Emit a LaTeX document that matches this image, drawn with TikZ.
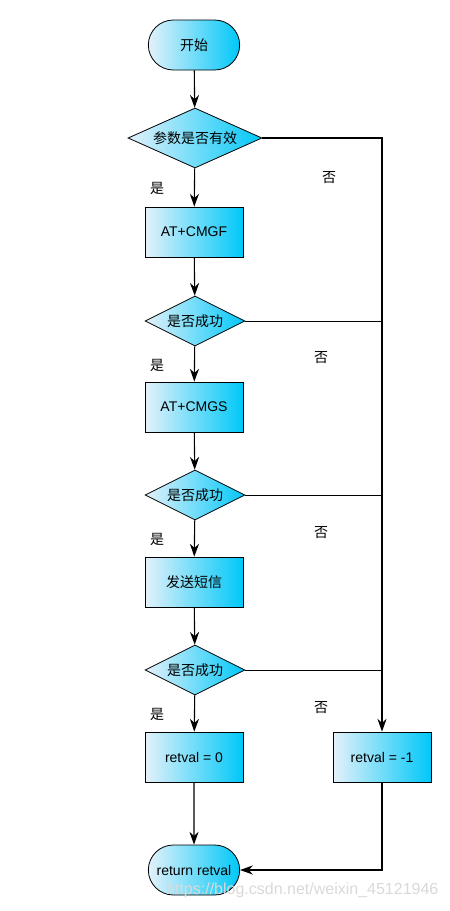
\documentclass[tikz,border=0pt]{standalone}
\usepackage{fontspec}
\setmainfont{Liberation Sans}
\newfontfamily\cjk{Noto Sans CJK SC}
\usepackage{xcolor}
\usetikzlibrary{shapes.geometric, shapes.misc, arrows.meta, positioning}

\definecolor{flowlight}{HTML}{E4F1FA}
\definecolor{flowcyan}{HTML}{00C8F8}

\begin{document}
\begin{tikzpicture}[
    x=1pt, y=-1pt,
    shaded/.style={draw, line width=0.8pt, left color=flowlight, right color=flowcyan, font=\fontsize{14}{16}\selectfont},
    terminal/.style={shaded, rounded rectangle, minimum width=98pt, minimum height=50pt},
    process/.style={shaded, rectangle, minimum width=98pt, minimum height=50pt},
    decision/.style={shaded, diamond, aspect=2.2, inner sep=0pt, minimum width=100pt, minimum height=50pt},
    answer/.style={font=\cjk\fontsize{14}{16}\selectfont},
    arrow/.style={-{Stealth[length=4.5mm, width=3.2mm]}, line width=1.1pt},
    line/.style={line width=1pt},
]
\useasboundingbox (0,0) rectangle (450,911);

% Main path
\node[terminal] (start) at (194, 45) {\cjk 开始};
\node[decision, minimum width=134pt, minimum height=60pt] (chkparam) at (195, 138) {\cjk 参数是否有效};
\node[process] (cmgf) at (194, 232) {AT+CMGF};
\node[decision] (ok1) at (195, 321) {\cjk 是否成功};
\node[process] (cmgs) at (194, 407) {AT+CMGS};
\node[decision] (ok2) at (195, 495) {\cjk 是否成功};
\node[process] (send) at (194, 582) {\cjk 发送短信};
\node[decision] (ok3) at (195, 670) {\cjk 是否成功};
\node[process] (retok) at (194, 757) {retval = 0};
\node[process] (reterr) at (382, 757) {retval = -1};
\node[terminal] (ret) at (194, 870) {return retval};

% Yes arrows
\draw[arrow] (start) -- (chkparam);
\draw[arrow] (chkparam) -- (cmgf);
\draw[arrow] (cmgf) -- (ok1);
\draw[arrow] (ok1) -- (cmgs);
\draw[arrow] (cmgs) -- (ok2);
\draw[arrow] (ok2) -- (send);
\draw[arrow] (send) -- (ok3);
\draw[arrow] (ok3) -- (retok);
\draw[arrow] (retok) -- (ret);

% No branches
\draw[arrow] (chkparam.east) -| (reterr);
\draw[line] (ok1.east) -- (ok1.east -| reterr.north);
\draw[line] (ok2.east) -- (ok2.east -| reterr.north);
\draw[line] (ok3.east) -- (ok3.east -| reterr.north);
\draw[arrow] (reterr) |- (ret);

% Labels
\node[answer] (yes0) at (157, 188) {是};
\node[answer] (yes1) at (157, 365) {是};
\node[answer] (yes2) at (157, 539) {是};
\node[answer] (yes3) at (157, 714) {是};
\node[answer] (no0) at (329, 178) {否};
\node[answer] (no1) at (321, 358) {否};
\node[answer] (no2) at (321, 533) {否};
\node[answer] (no3) at (321, 708) {否};

% Watermark
\node[font=\fontsize{16}{18}\selectfont, color=gray!30, anchor=west, inner sep=0pt] (mark) at (166, 890) {https://blog.csdn.net/weixin\_45121946};

\end{tikzpicture}
\end{document}
